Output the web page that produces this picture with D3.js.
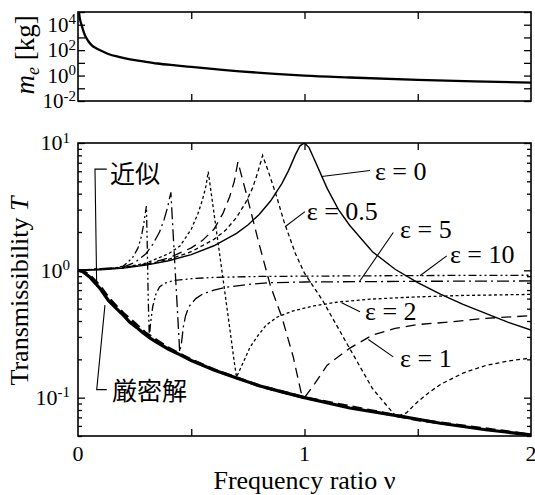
<!DOCTYPE html>
<html>
<head>
<meta charset="utf-8">
<script src="https://cdn.jsdelivr.net/npm/d3@7"></script>
<style>
  body { margin: 0; background: #fff; }
  svg { display: block; font-family: "Liberation Serif", "DejaVu Serif", "Times New Roman", serif; }
  svg text, svg tspan { font-family: "Liberation Serif", "DejaVu Serif", "Times New Roman", serif; fill: #000; }
  svg text.jp, svg text.jp tspan { font-family: "Noto Sans CJK JP", "Noto Sans CJK SC", sans-serif; }
</style>
</head>
<body>
<div id="chart"></div>
<script>
'use strict';

// effective mass m_e [kg] vs frequency ratio (log10 values)
var massNu  = [0.004, 0.008, 0.0163, 0.031, 0.045, 0.06, 0.08, 0.1, 0.134, 0.18, 0.23, 0.28, 0.35, 0.43, 0.5, 0.65, 0.87, 1.0, 1.2, 1.5, 1.75, 2.0];
var massLog = [5.0, 4.5, 3.95, 3.15, 2.72, 2.4, 2.15, 1.97, 1.7, 1.47, 1.28, 1.14, 0.95, 0.8, 0.68, 0.43, 0.14, 0.0, -0.15, -0.34, -0.46, -0.56];

// transmissibility curves, [nu, T]
var eps0 = [[0,1],[0.1,1.01],[0.2,1.04],[0.3,1.1],[0.4,1.19],[0.5,1.33],[0.6,1.56],[0.7,1.95],[0.75,2.27],[0.8,2.75],[0.85,3.5],[0.9,4.8],[0.93,6.1],[0.96,8.1],[0.98,9.5],[1.0,10],[1.02,9.2],[1.05,7.0],[1.08,5.3],[1.1,4.4],[1.15,3.0],[1.2,2.25],[1.3,1.4],[1.4,1.02],[1.5,0.8],[1.6,0.65],[1.7,0.54],[1.8,0.46],[1.9,0.39],[2.0,0.34]];
var eps05 = [[0,1],[0.2,1.04],[0.3,1.11],[0.4,1.22],[0.5,1.4],[0.6,1.75],[0.65,2.05],[0.7,2.6],[0.74,3.4],[0.77,4.4],[0.79,5.6],[0.805,6.9],[0.815,8.0],[0.84,6.0],[0.875,3.9],[0.91,2.4],[0.96,1.35],[1.0,0.95],[1.08,0.58],[1.18,0.28],[1.3,0.118],[1.36,0.088],[1.405,0.071],[1.45,0.076],[1.5,0.093],[1.55,0.11],[1.6,0.127],[1.7,0.156],[1.8,0.179],[1.9,0.194],[2.0,0.205]];
var eps1 = [[0,1],[0.2,1.05],[0.3,1.12],[0.4,1.25],[0.5,1.5],[0.55,1.72],[0.6,2.1],[0.64,2.8],[0.67,3.8],[0.69,5.0],[0.706,7.1],[0.74,4.2],[0.77,2.6],[0.8,1.6],[0.85,0.75],[0.9,0.43],[0.95,0.21],[0.985,0.11],[1.0,0.1],[1.04,0.125],[1.1,0.18],[1.2,0.245],[1.3,0.31],[1.4,0.35],[1.5,0.375],[1.62,0.39],[1.8,0.42],[2.0,0.44]];
var eps2 = [[0,1],[0.2,1.05],[0.3,1.14],[0.4,1.35],[0.45,1.55],[0.5,2.1],[0.53,2.8],[0.55,3.6],[0.565,4.6],[0.575,5.95],[0.596,3.2],[0.62,1.57],[0.645,0.745],[0.67,0.35],[0.69,0.19],[0.7,0.145],[0.73,0.19],[0.76,0.25],[0.79,0.3],[0.83,0.37],[0.88,0.43],[0.95,0.48],[1.04,0.525],[1.15,0.565],[1.3,0.595],[1.48,0.617],[1.7,0.635],[2.0,0.647]];
var eps5 = [[0,1],[0.2,1.06],[0.25,1.15],[0.3,1.35],[0.33,1.6],[0.36,2.0],[0.38,2.5],[0.395,3.1],[0.41,4.1],[0.42,1.95],[0.43,0.93],[0.44,0.45],[0.449,0.228],[0.457,0.27],[0.465,0.36],[0.475,0.44],[0.49,0.52],[0.52,0.6],[0.55,0.65],[0.6,0.7],[0.65,0.735],[0.75,0.775],[0.85,0.8],[1.0,0.81],[1.5,0.82],[2.0,0.825]];
var eps10 = [[0,1],[0.15,1.03],[0.2,1.08],[0.24,1.25],[0.265,1.5],[0.28,1.85],[0.29,2.3],[0.297,2.8],[0.302,3.2],[0.306,1.5],[0.31,0.6],[0.315,0.29],[0.32,0.38],[0.33,0.52],[0.345,0.66],[0.36,0.74],[0.38,0.79],[0.42,0.83],[0.5,0.86],[0.6,0.88],[0.8,0.895],[1.0,0.9],[1.5,0.91],[2.0,0.915]];
var exact = [[0,1],[0.02,0.98],[0.05,0.89],[0.08,0.78],[0.1,0.71],[0.134,0.58],[0.17,0.5],[0.2,0.445],[0.229,0.39],[0.26,0.355],[0.281,0.33],[0.317,0.295],[0.35,0.27],[0.4,0.24],[0.449,0.218],[0.5,0.196],[0.6,0.165],[0.7,0.143],[0.8,0.124],[0.9,0.111],[1.0,0.1],[1.2,0.083],[1.434,0.071],[1.6,0.063],[1.8,0.056],[2.0,0.051]];
var approx = [[0,1],[0.02,0.99],[0.05,0.92],[0.08,0.81],[0.1,0.74],[0.134,0.61],[0.17,0.52],[0.2,0.46],[0.25,0.385],[0.3,0.32],[0.35,0.28],[0.4,0.245],[0.5,0.198],[0.6,0.166],[0.8,0.124],[1.0,0.1],[1.5,0.067],[2.0,0.051]];

var xTicks = [0, 0.5, 1, 1.5, 2];
var xLabels = [0, 1, 2];
var massExp = [4, 2, 0, -2];
var transExp = [1, 0, -1];

var W = 535, H = 495
  , left = 78, right = 531
  , topA = 12, botA = 101      // m_e panel
  , topB = 143, botB = 436;    // transmissibility panel
var serif = '"Liberation Serif", "DejaVu Serif", "Times New Roman", serif';

var svg = d3.select('#chart').append('svg').attr('width', W).attr('height', H);

var x = d3.scaleLinear().domain([0, 2]).range([left, right]);
var yM = d3.scaleLog().domain([1e-2, 1e5]).range([botA, topA]);
var yT = d3.scaleLog().domain([0.05, 10]).range([botB, topB]);

svg.append('defs').selectAll('clipPath')
  .data([['clipA', topA, botA], ['clipB', topB, botB]])
  .enter().append('clipPath').attr('id', function (d) { return d[0]; })
  .append('rect').attr('x', left).attr('y', function (d) { return d[1]; })
  .attr('width', right - left).attr('height', function (d) { return d[2] - d[1]; });

function txt(sel) {
  return sel.append('text').style('font-family', serif);
}
// every text gets its content through a tspan
function put(t, s) {
  t.append('tspan').text(s);
  return t;
}

function tickAxes(yScale, y0, y1, majors, minors) {
  var g = svg.append('g');
  var tick = 7, minor = 4;
  [[y1, d3.axisBottom], [y0, d3.axisTop]].forEach(function (p) {
    g.append('g').attr('transform', 'translate(0,' + p[0] + ')')
      .call(p[1](x).tickValues(xTicks.slice(1, -1)).tickSizeInner(-tick).tickSizeOuter(0).tickFormat(''));
  });
  [[left, d3.axisLeft], [right, d3.axisRight]].forEach(function (p) {
    g.append('g').attr('transform', 'translate(' + p[0] + ',0)')
      .call(p[1](yScale).tickValues(majors).tickSizeInner(-tick).tickSizeOuter(0).tickFormat(''));
    if (minors.length) {
      g.append('g').attr('transform', 'translate(' + p[0] + ',0)')
        .call(p[1](yScale).tickValues(minors).tickSizeInner(-minor).tickSizeOuter(0).tickFormat(''));
    }
  });
  g.selectAll('.domain').remove();
  g.selectAll('.tick text').remove();
  g.selectAll('.tick line').attr('stroke', '#000').attr('stroke-width', 1.3);
  svg.append('rect').attr('x', left).attr('y', y0).attr('width', right - left).attr('height', y1 - y0)
    .attr('fill', 'none').attr('stroke', '#000').attr('stroke-width', 1.6);
}

function powLabel(yScale, e, xr, size, sup) {
  var t = txt(svg).attr('x', xr).attr('y', yScale(Math.pow(10, e)) + size * 0.34)
    .attr('text-anchor', 'end').style('font-size', size + 'px');
  t.append('tspan').text('10');
  t.append('tspan').attr('dy', -size * 0.36).style('font-size', sup + 'px').text(e < 0 ? '-' + (-e) : e);
}

// ---- top panel: m_e
var decA = d3.range(-2, 6).map(function (e) { return Math.pow(10, e); });
tickAxes(yM, topA, botA, decA, []);
massExp.forEach(function (e) { powLabel(yM, e, 76, 21, 15); });

svg.append('path')
  .datum(d3.zip(massNu, massLog))
  .attr('clip-path', 'url(#clipA)')
  .attr('fill', 'none').attr('stroke', '#000').attr('stroke-width', 2.3)
  .attr('d', d3.line().curve(d3.curveMonotoneX)
    .x(function (d) { return x(d[0]); })
    .y(function (d) { return yM(Math.pow(10, d[1])); }));

var mLab = txt(svg).attr('transform', 'translate(34,55) rotate(-90)')
  .attr('text-anchor', 'middle').style('font-size', '27px');
mLab.append('tspan').style('font-style', 'italic').text('m');
mLab.append('tspan').style('font-style', 'italic').style('font-size', '18px').attr('dy', 5).text('e');
mLab.append('tspan').attr('dy', -5).text(' [kg]');

// ---- bottom panel: transmissibility
var majB = [0.1, 1, 10];
var minB = [];
[0.01, 0.1, 1].forEach(function (d) {
  for (var k = 2; k <= 9; k++) if (d * k >= 0.05 && d * k <= 10) minB.push(d * k);
});
tickAxes(yT, topB, botB, majB, minB);
transExp.forEach(function (e) { powLabel(yT, e, 70, 22, 15); });

xLabels.forEach(function (d) {
  put(txt(svg).attr('x', x(d)).attr('y', 461).attr('text-anchor', 'middle')
    .style('font-size', '22px'), d);
});

var line = d3.line()
  .x(function (d) { return x(d[0]); })
  .y(function (d) { return yT(d[1]); });

var curves = [
  { data: exact,  w: 3.2, dash: null },
  { data: approx, w: 3.0, dash: '10,5' },
  { data: eps0,   w: 1.4, dash: null },
  { data: eps05,  w: 1.3, dash: '4,3' },
  { data: eps1,   w: 1.3, dash: '10,6' },
  { data: eps2,   w: 1.3, dash: '3,2.5' },
  { data: eps5,   w: 1.3, dash: '12,4,2,4' },
  { data: eps10,  w: 1.3, dash: '8,3,2,3,2,3' }
];
svg.append('g').attr('clip-path', 'url(#clipB)')
  .selectAll('path').data(curves).enter().append('path')
  .attr('fill', 'none').attr('stroke', '#000')
  .attr('stroke-width', function (d) { return d.w; })
  .attr('stroke-dasharray', function (d) { return d.dash; })
  .attr('stroke-linejoin', 'miter')
  .attr('d', function (d) { return line(d.data); });

// annotations, in data coordinates: leader points then text anchor
var notes = [
  { pts: [[1.076, 5.46], [1.289, 6.08]], at: [1.311, 5.14], label: 'ε = 0' },
  { pts: [[0.914, 2.2], [1.002, 2.89]], at: [1.01, 2.49], label: 'ε = 0.5' },
  { pts: [[1.242, 0.813], [1.392, 1.98]], at: [1.422, 1.79], label: 'ε = 5' },
  { pts: [[1.51, 0.906], [1.628, 1.3]], at: [1.642, 1.135], label: 'ε = 10' },
  { pts: [[1.164, 0.556], [1.245, 0.472]], at: [1.267, 0.406], label: 'ε = 2' },
  { pts: [[1.282, 0.286], [1.392, 0.209]], at: [1.422, 0.174], label: 'ε = 1' },
  { pts: [[0.127, 6.24], [0.075, 6.24], [0.0826, 0.743]], at: [0.141, 4.87], label: '近似', jp: true },
  { pts: [[0.127, 0.1156], [0.0826, 0.1156], [0.119, 0.533]], at: [0.15, 0.0952], label: '厳密解', jp: true }
];
var ann = svg.append('g');
notes.forEach(function (n) {
  ann.append('path').attr('fill', 'none').attr('stroke', '#000').attr('stroke-width', 1.1)
    .attr('d', line(n.pts));
  var t = ann.append('text').attr('x', x(n.at[0])).attr('y', yT(n.at[1]))
    .style('font-size', n.jp ? '25px' : '26px');
  if (n.jp) t.attr('class', 'jp').style('font-family', '"Noto Sans CJK JP", sans-serif');
  else t.style('font-family', serif);
  put(t, n.label);
});

put(txt(svg).attr('x', x(1)).attr('y', 489).attr('text-anchor', 'middle')
  .style('font-size', '26px'), 'Frequency ratio ν');

var tLab = txt(svg).attr('transform', 'translate(28,291) rotate(-90)')
  .attr('text-anchor', 'middle').style('font-size', '26px');
tLab.append('tspan').text('Transmissibility ');
tLab.append('tspan').style('font-style', 'italic').text('T');
</script>
</body>
</html>
